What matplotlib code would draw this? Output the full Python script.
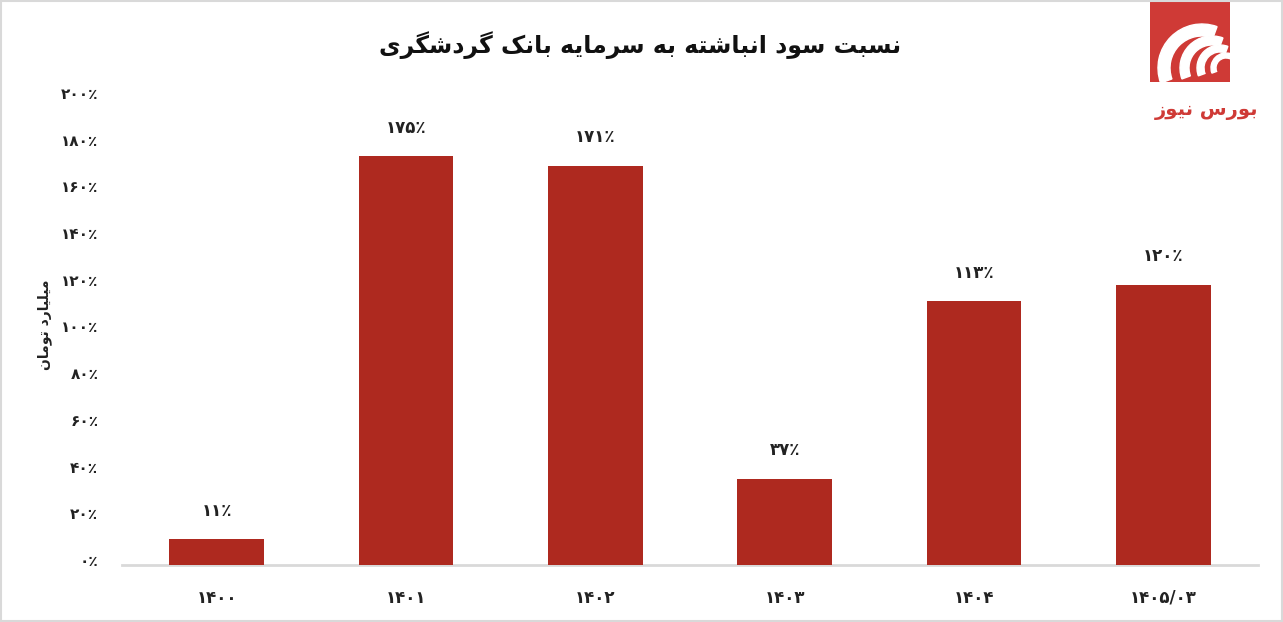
import matplotlib
matplotlib.use('Agg')
import matplotlib.pyplot as plt
from matplotlib.patches import Rectangle, Wedge
from matplotlib.transforms import ScaledTranslation

# data
years = ['۱۴۰۰', '۱۴۰۱', '۱۴۰۲', '۱۴۰۳', '۱۴۰۴', '۱۴۰۵/۰۳']
values = [11, 175, 171, 37, 113, 120]
y_ticks = [0, 20, 40, 60, 80, 100, 120, 140, 160, 180, 200]

title_text = 'نسبت سود انباشته به سرمایه بانک گردشگری'
ylabel_text = 'میلیارد تومان'
logo_text = 'بورس نیوز'

bar_color = '#ae291f'
logo_red = '#cf3a36'

# contextual forms (isolated, final, initial, medial) - matplotlib does no arabic shaping
FORMS = {
    'ا': (0xFE8D, 0xFE8E), 'د': (0xFEA9, 0xFEAA), 'ذ': (0xFEAB, 0xFEAC),
    'ر': (0xFEAD, 0xFEAE), 'ز': (0xFEAF, 0xFEB0), 'ژ': (0xFB8A, 0xFB8B),
    'و': (0xFEED, 0xFEEE),
    'ب': (0xFE8F, 0xFE90, 0xFE91, 0xFE92), 'پ': (0xFB56, 0xFB57, 0xFB58, 0xFB59),
    'ت': (0xFE95, 0xFE96, 0xFE97, 0xFE98), 'ث': (0xFE99, 0xFE9A, 0xFE9B, 0xFE9C),
    'ج': (0xFE9D, 0xFE9E, 0xFE9F, 0xFEA0), 'چ': (0xFB7A, 0xFB7B, 0xFB7C, 0xFB7D),
    'ح': (0xFEA1, 0xFEA2, 0xFEA3, 0xFEA4), 'خ': (0xFEA5, 0xFEA6, 0xFEA7, 0xFEA8),
    'س': (0xFEB1, 0xFEB2, 0xFEB3, 0xFEB4), 'ش': (0xFEB5, 0xFEB6, 0xFEB7, 0xFEB8),
    'ص': (0xFEB9, 0xFEBA, 0xFEBB, 0xFEBC), 'ض': (0xFEBD, 0xFEBE, 0xFEBF, 0xFEC0),
    'ط': (0xFEC1, 0xFEC2, 0xFEC3, 0xFEC4), 'ظ': (0xFEC5, 0xFEC6, 0xFEC7, 0xFEC8),
    'ع': (0xFEC9, 0xFECA, 0xFECB, 0xFECC), 'غ': (0xFECD, 0xFECE, 0xFECF, 0xFED0),
    'ف': (0xFED1, 0xFED2, 0xFED3, 0xFED4), 'ق': (0xFED5, 0xFED6, 0xFED7, 0xFED8),
    'ک': (0xFB8E, 0xFB8F, 0xFB90, 0xFB91), 'گ': (0xFB92, 0xFB93, 0xFB94, 0xFB95),
    'ل': (0xFEDD, 0xFEDE, 0xFEDF, 0xFEE0), 'م': (0xFEE1, 0xFEE2, 0xFEE3, 0xFEE4),
    'ن': (0xFEE5, 0xFEE6, 0xFEE7, 0xFEE8), 'ه': (0xFEE9, 0xFEEA, 0xFEEB, 0xFEEC),
    'ی': (0xFBFC, 0xFBFD, 0xFBFE, 0xFBFF),
}


def shape(text):
    out = []
    for i, ch in enumerate(text):
        if ch not in FORMS:
            out.append(ch)
            continue
        prev = text[i - 1] if i > 0 else ''
        nxt = text[i + 1] if i + 1 < len(text) else ''
        f = FORMS[ch]
        join_prev = prev in FORMS and len(FORMS[prev]) == 4
        join_next = nxt in FORMS and len(f) == 4
        if join_prev and join_next:
            g = f[3]
        elif join_prev:
            g = f[1]
        elif join_next:
            g = f[2]
        else:
            g = f[0]
        out.append(chr(g))
    return ''.join(reversed(out))


def fa_num(n):
    return str(n).translate(str.maketrans('0123456789', '۰۱۲۳۴۵۶۷۸۹'))


plt.rcParams['font.family'] = ['DejaVu Sans', 'Noto Sans']

W, H = 1283, 622
fig = plt.figure(figsize=(W / 100, H / 100), dpi=100)
ax = fig.add_axes([122 / W, 1 - 565 / H, (1258 - 122) / W, (565 - 98) / H])

x = list(range(len(years)))
bars = ax.bar(x, values, width=0.5, color=bar_color, zorder=3)
for b, v in zip(bars, values):
    ax.annotate(fa_num(v) + '٪', (b.get_x() + b.get_width() / 2, v),
                xytext=(0, 14), textcoords='offset points',
                ha='center', va='bottom', fontsize=12, fontweight='bold',
                color='#222222')

ax.set_xlim(-0.5, len(years) - 0.5)
ax.set_ylim(0, 200)
ax.set_xticks(x)
ax.set_xticklabels(years, fontsize=12, fontweight='bold')
ax.set_yticks(y_ticks)
ax.set_yticklabels([fa_num(t) + '٪' for t in y_ticks], fontsize=11, fontweight='bold')
ax.tick_params(axis='both', length=0, colors='#222222')
ax.tick_params(axis='x', pad=17)
ax.tick_params(axis='y', pad=17)
# tick labels sit a little above their gridline in the reference
for lab in ax.get_yticklabels():
    lab.set_transform(lab.get_transform() + ScaledTranslation(0, 0.05, fig.dpi_scale_trans))
for s in ['top', 'right', 'left']:
    ax.spines[s].set_visible(False)
ax.spines['bottom'].set_color('#d9d9d9')
ax.spines['bottom'].set_linewidth(2)

fig.text(640 / W, 1 - 45 / H, shape(title_text), ha='center', va='center',
         fontsize=17, fontweight='bold', color='#111111')
fig.text(45 / W, 1 - 325 / H, shape(ylabel_text), ha='center', va='center',
         rotation=90, fontsize=10, fontweight='bold', color='#222222')

# logo in the top-right corner
lax = fig.add_axes([1150 / W, 1 - 82 / H, 80 / W, 80 / H])
lax.set_xlim(0, 80)
lax.set_ylim(0, 80)
lax.axis('off')
lax.add_patch(Rectangle((0, 0), 80, 80, color=logo_red))
for cx, r, w in [(52, 44, 12), (62, 32, 9), (70, 23, 7), (76, 15, 5)]:
    lax.add_patch(Wedge((cx, 14), r, 70, 200, width=w, color='white'))
fig.text(1207 / W, 1 - 110 / H, shape(logo_text), ha='center', va='center',
         fontsize=14, fontweight='bold', color=logo_red)

# light frame around the whole picture
fig.patches.append(Rectangle((0.001, 0.002), 0.998, 0.996, transform=fig.transFigure,
                             fill=False, edgecolor='#d9d9d9', linewidth=1.5))

fig.savefig('out.png', dpi=100)
